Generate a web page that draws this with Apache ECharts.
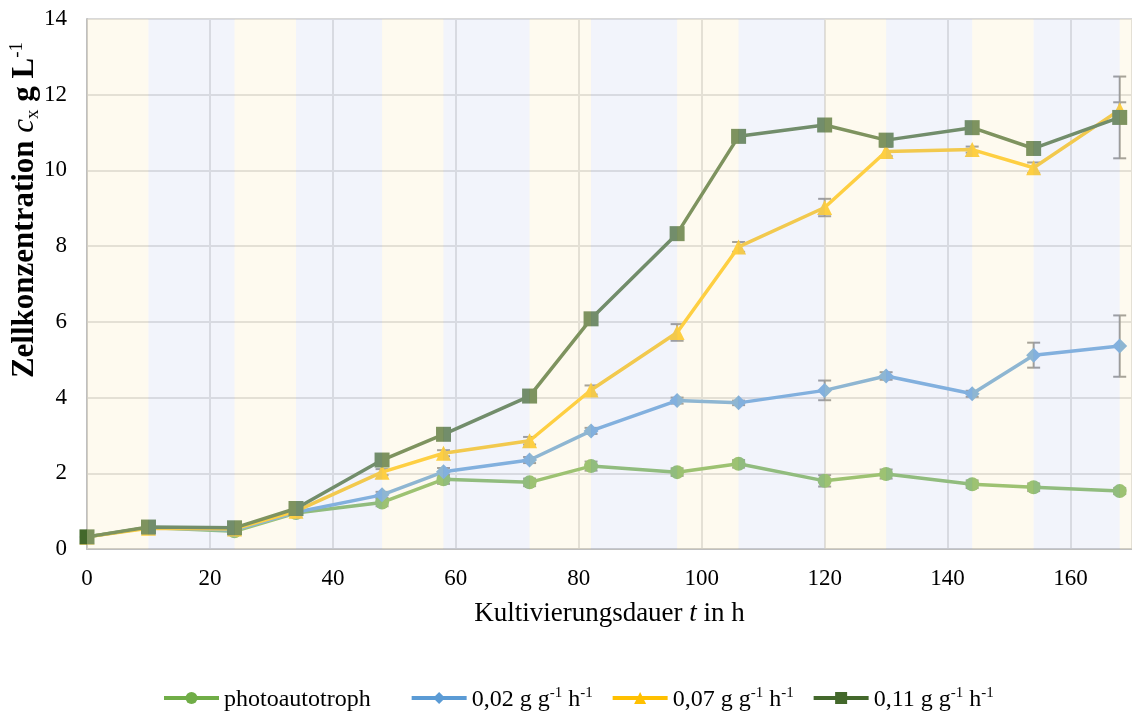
<!DOCTYPE html>
<html>
<head>
<meta charset="utf-8">
<script src="https://cdn.jsdelivr.net/npm/echarts@6/dist/echarts.min.js"></script>
<style>
html,body{margin:0;padding:0;background:#fff;}
#chart{width:1132px;height:711px;}
</style>
</head>
<body>
<div id="chart"></div>
<script>
// ---- data ----
const times = [0, 10, 24, 34, 48, 58, 72, 82, 96, 106, 120, 130, 144, 154, 168];
const seriesNames = ['photoautotroph', '0,02 g g-1 h-1', '0,07 g g-1 h-1', '0,11 g g-1 h-1'];
const photo    = [0.32, 0.57, 0.47, 0.95, 1.23, 1.84, 1.76, 2.19, 2.03, 2.25, 1.80, 1.98, 1.71, 1.63, 1.53];
const photoErr = [0.02, 0.05, 0.06, 0.06, 0.10, 0.12, 0.10, 0.12, 0.10, 0.10, 0.15, 0.12, 0.10, 0.10, 0.08];
const low      = [0.32, 0.57, 0.50, 0.97, 1.43, 2.04, 2.35, 3.12, 3.92, 3.86, 4.19, 4.57, 4.10, 5.12, 5.36];
const lowErr   = [0.02, 0.04, 0.06, 0.06, 0.08, 0.10, 0.08, 0.08, 0.08, 0.06, 0.26, 0.10, 0.08, 0.33, 0.81];
const mid      = [0.32, 0.55, 0.53, 1.00, 2.03, 2.53, 2.86, 4.20, 5.72, 7.98, 9.02, 10.50, 10.55, 10.07, 11.60];
const midErr   = [0.02, 0.03, 0.05, 0.05, 0.08, 0.08, 0.10, 0.12, 0.22, 0.13, 0.23, 0.12, 0.08, 0.14, 0.20];
const high     = [0.32, 0.58, 0.56, 1.07, 2.35, 3.03, 4.04, 6.08, 8.33, 10.90, 11.20, 10.80, 11.13, 10.58, 11.40];
const highErr  = [0.02, 0.04, 0.05, 0.06, 0.06, 0.06, 0.08, 0.06, 0.06, 0.06, 0.06, 0.08, 0.06, 0.06, 1.08];
// light/dark phase boundaries (h), first band is light
const bandEdges = [0, 10, 24, 34, 48, 58, 72, 82, 96, 106, 120, 130, 144, 154, 168, 170];
const xTicks = [0, 20, 40, 60, 80, 100, 120, 140, 160];
const yTicks = [0, 2, 4, 6, 8, 10, 12, 14];

// ---- styles ----
const colors = ['#70AD47', '#5B9BD5', '#FFC000', '#43682B'];
const symbols = ['circle', 'diamond', 'triangle', 'rect'];
const symbolSizes = [14, 15, 15, 15];
const FONT = '"Liberation Serif", "Times New Roman", serif';

const values = [photo, low, mid, high];
const errs = [photoErr, lowErr, midErr, highErr];

const bands = [];
for (let i = 0; i < bandEdges.length - 1; i++) {
  bands.push([
    { xAxis: bandEdges[i], itemStyle: { color: i % 2 === 0 ? 'rgba(252,240,204,0.32)' : 'rgba(214,222,244,0.32)' } },
    { xAxis: bandEdges[i + 1] }
  ]);
}

const series = [];
// error bars (under the lines)
values.forEach((vals, si) => {
  series.push({
    type: 'custom',
    name: 'err' + si,
    z: 2,
    silent: true,
    data: times.map((t, i) => [t, vals[i], errs[si][i]]),
    renderItem: function (params, api) {
      const x = api.value(0), y = api.value(1), e = api.value(2);
      const top = api.coord([x, y + e]);
      const bot = api.coord([x, y - e]);
      const hw = 6.5;
      const st = { stroke: '#7f7f7f', lineWidth: 2 };
      return {
        type: 'group',
        children: [
          { type: 'line', shape: { x1: top[0], y1: top[1], x2: bot[0], y2: bot[1] }, style: st },
          { type: 'line', shape: { x1: top[0] - hw, y1: top[1], x2: top[0] + hw, y2: top[1] }, style: st },
          { type: 'line', shape: { x1: bot[0] - hw, y1: bot[1], x2: bot[0] + hw, y2: bot[1] }, style: st }
        ]
      };
    }
  });
});
values.forEach((vals, si) => {
  series.push({
    type: 'line',
    name: seriesNames[si],
    z: 3,
    data: times.map((t, i) => [t, vals[i]]),
    symbol: symbols[si],
    symbolSize: symbolSizes[si],
    showAllSymbol: true,
    lineStyle: { width: 3.5, color: colors[si] },
    itemStyle: { color: colors[si] },
    emphasis: { disabled: true }
  });
});
// day/night overlay bands (drawn over everything in the plot)
series.push({
  type: 'line',
  name: 'bands',
  z: 10,
  silent: true,
  data: [],
  markArea: { silent: true, z: 10, data: bands }
});

const legendRich = {
  n: { fontFamily: FONT, fontSize: 24, color: '#000', lineHeight: 28, verticalAlign: 'bottom' },
  sup: { fontFamily: FONT, fontSize: 15, color: '#000', lineHeight: 28, verticalAlign: 'top', padding: [2, 0, 0, 0] },
  gap: { width: 21, fontSize: 24, lineHeight: 28 }
};
function richName(name) {
  if (name === 'photoautotroph') return '{n|photoautotroph}{gap| }';
  const num = name.split(' ')[0];
  return '{n|' + num + ' g g}{sup|-1}{n| h}{sup|-1}';
}

const chart = echarts.init(document.getElementById('chart'), null, { renderer: 'canvas' });
chart.setOption({
  animation: false,
  backgroundColor: '#fff',
  grid: { left: 87, right: 0, top: 19, bottom: 162, containLabel: false },
  xAxis: {
    type: 'value', min: 0, max: 170, interval: 20,
    name: '{a|Kultivierungsdauer }{i|t}{a| in h}',
    nameLocation: 'middle', nameGap: 51,
    nameTextStyle: {
      rich: {
        a: { fontFamily: FONT, fontSize: 27, color: '#000' },
        i: { fontFamily: FONT, fontSize: 27, color: '#000', fontStyle: 'italic' }
      }
    },
    axisLine: { show: true, lineStyle: { color: '#bfbfbf', width: 2 } },
    axisTick: { show: false },
    axisLabel: { fontFamily: FONT, fontSize: 23, color: '#000', margin: 18, showMaxLabel: false,
      formatter: v => (xTicks.indexOf(v) >= 0 ? String(v) : '') },
    splitLine: { show: true, lineStyle: { color: '#d9d9d9', width: 2 } }
  },
  yAxis: {
    type: 'value', min: 0, max: 14, interval: 2,
    axisLine: { show: true, lineStyle: { color: '#bfbfbf', width: 2 } },
    axisTick: { show: false },
    axisLabel: { fontFamily: FONT, fontSize: 23, color: '#000', margin: 20,
      formatter: v => (yTicks.indexOf(v) >= 0 ? String(v) : '') },
    splitLine: { show: true, lineStyle: { color: '#d9d9d9', width: 2 } }
  },
  legend: {
    data: seriesNames,
    left: 157, top: 679,
    itemWidth: 55, itemHeight: 15, itemGap: 18,
    lineStyle: { width: 4 },
    formatter: richName,
    textStyle: { rich: legendRich, fontFamily: FONT, fontSize: 24, color: '#000' }
  },
  graphic: [{
    type: 'text',
    x: 25, y: 210,
    rotation: Math.PI / 2,
    style: {
      text: '{b|Zellkonzentration }{i|c}{sub|x}{b| g L}{sup|-1}',
      align: 'center', verticalAlign: 'middle',
      rich: {
        b: { fontFamily: FONT, fontSize: 31, fontWeight: 'bold', fill: '#000', lineHeight: 36, verticalAlign: 'middle' },
        i: { fontFamily: FONT, fontSize: 31, fontStyle: 'italic', fill: '#000', lineHeight: 36, verticalAlign: 'middle' },
        sub: { fontFamily: FONT, fontSize: 19, fill: '#000', lineHeight: 36, verticalAlign: 'bottom', padding: [0, 0, 0, 0] },
        sup: { fontFamily: FONT, fontSize: 19, fill: '#000', lineHeight: 36, verticalAlign: 'top', padding: [1, 0, 0, 0] }
      }
    }
  }],
  series: series
});
</script>
</body>
</html>
